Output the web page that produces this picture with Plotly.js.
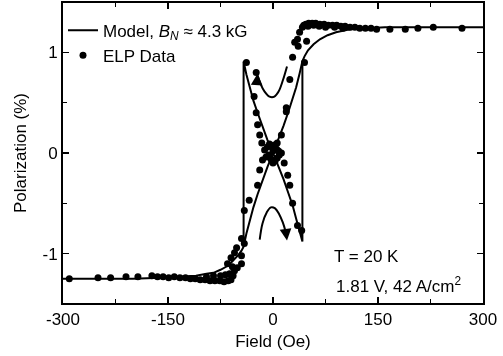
<!DOCTYPE html>
<html><head><meta charset="utf-8">
<script src="https://cdn.plot.ly/plotly-3.0.1.min.js"></script>
<style>html,body{margin:0;padding:0;background:#fff}#chart{width:503px;height:356px;filter:grayscale(1)}</style>
</head><body><div id="chart"></div>
<script>
// Model branch 1: lower-left curve, ascending diagonal, upper-right curve
const modelField1 = [-300,-250,-200,-160,-130,-110,-95,-85,-75,-67,-60,-54,-49,-45,-42,-38,-33,-28,-22,-15,-8,0,8,15,22,28,33,38,42,45,50,58,67,78,90,110,134,160,200,250,300];
const modelPol1   = [-1.25,-1.25,-1.25,-1.24,-1.23,-1.22,-1.20,-1.19,-1.16,-1.13,-1.09,-1.05,-1.01,-0.97,-0.93,-0.80,-0.66,-0.54,-0.41,-0.27,-0.14,0.0,0.14,0.27,0.41,0.53,0.65,0.79,0.91,0.96,1.02,1.08,1.13,1.17,1.20,1.23,1.24,1.25,1.25,1.25,1.25];
// Model branch 2: left jump, descending diagonal, right jump
const modelField2 = [-42,-42,-38,-33,-28,-22,-15,-8,0,8,15,22,28,33,38,42,42];
const modelPol2   = [-0.93,0.91,0.78,0.64,0.52,0.40,0.26,0.13,0.0,-0.13,-0.26,-0.40,-0.52,-0.65,-0.77,-0.88,0.91];
// Direction arcs
const arcUpField = [20,14,8,2,-5,-12,-18,-22];
const arcUpPol   = [0.86,0.72,0.61,0.56,0.56,0.61,0.69,0.77];
const arcDnField = [-19,-15,-9,-3,3,9,14,18];
const arcDnPol   = [-0.86,-0.70,-0.59,-0.54,-0.55,-0.61,-0.69,-0.78];
// ELP data
const dataField = [270,229,207,189,167,148,140,132,124,117,110,103,97,91,85,79,73,67,61,56,51,47,44,42,50,58,66,75,88,100,
  38,35,31,48,36,28,45,24,19,19,12,6,12,16,21,24,28,35,41,
  -38,-24,-27,-24,-22,-19,-16,-12,-15,-19,-22,-34,-41,-45,-52,-41,-60,-45,-55,-51,-45,-65,
  -8,-5,-2,2,5,8,-6,-3,0,3,6,9,0,-10,
  -291,-250,-232,-210,-193,-173,-165,-157,-149,-141,-133,-125,-118,-111,-104,-97,-90,-83,-76,-70,-64,-60,-57,-62,-68,-75,-85,-95,-55,-58];
const dataPol = [1.24,1.25,1.24,1.23,1.23,1.23,1.24,1.24,1.24,1.25,1.25,1.26,1.26,1.27,1.27,1.27,1.28,1.28,1.29,1.29,1.29,1.28,1.27,1.25,1.26,1.27,1.26,1.25,1.25,1.24,
  1.20,1.13,1.10,1.11,1.06,0.95,0.90,0.73,0.45,0.41,0.18,0.10,0.0,-0.10,-0.22,-0.32,-0.50,-0.72,-0.77,
  0.90,0.80,0.56,0.40,0.28,0.18,0.10,0.03,-0.07,-0.17,-0.32,-0.47,-0.57,-0.85,-0.94,-0.90,-1.04,-1.02,-0.99,-1.14,-1.10,-1.10,
  0.06,0.09,0.07,0.08,0.04,0.02,-0.02,-0.06,-0.10,-0.08,-0.05,-0.02,0.02,-0.04,
  -1.25,-1.24,-1.24,-1.23,-1.23,-1.22,-1.23,-1.23,-1.24,-1.23,-1.24,-1.24,-1.25,-1.25,-1.26,-1.26,-1.27,-1.27,-1.27,-1.28,-1.27,-1.26,-1.22,-1.20,-1.21,-1.22,-1.22,-1.23,-1.17,-1.13];
const xTicks = [-300,-150,0,150,300];
const xTickText = ['-300','-150','0','150','300'];
const yTicks = [-1,0,1];
const yTickText = ['-1','0','1'];

const lineStyle = {color:'#000', width:2};
const traces = [
  {x:modelField1, y:modelPol1, mode:'lines', line:lineStyle, name:'Model, <i>B</i><sub><i>N</i></sub> ≈ 4.3 kG', legendgroup:'a', showlegend:true},
  {x:modelField2, y:modelPol2, mode:'lines', line:lineStyle, showlegend:false},
  {x:arcUpField, y:arcUpPol, mode:'lines', line:{color:'#000', width:2, shape:'spline'}, showlegend:false},
  {x:arcDnField, y:arcDnPol, mode:'lines', line:{color:'#000', width:2, shape:'spline'}, showlegend:false},
  {x:dataField, y:dataPol, mode:'markers', marker:{color:'#000', size:7}, name:'ELP Data', legendgroup:'b'}
];
const fnt = {family:'Liberation Sans, Arial, sans-serif', size:17, color:'#000000'};
const layout = {
  width:503, height:356,
  margin:{l:63, r:20, t:3, b:53},
  paper_bgcolor:'#fff', plot_bgcolor:'#fff',
  font:fnt,
  showlegend:true,
  legend:{x:0.0, y:0.968, xanchor:'left', yanchor:'top', bgcolor:'rgba(0,0,0,0)', font:fnt, tracegroupgap:20, traceorder:'normal', itemwidth:30},
  xaxis:{range:[-300,300], tickvals:xTicks, ticktext:xTickText, ticks:'inside', ticklen:6, tickwidth:1.5, tickcolor:'#000',
    showline:true, linewidth:2, linecolor:'#000', mirror:'ticks', showgrid:false, zeroline:false,
    minor:{dtick:75, tick0:0, ticks:'inside', ticklen:4, tickwidth:1.5, tickcolor:'#000', showgrid:false},
    tickfont:fnt, title:{text:'Field (Oe)', font:fnt, standoff:7}},
  yaxis:{range:[-1.49,1.49], tickvals:yTicks, ticktext:yTickText, ticks:'inside', ticklen:6, tickwidth:1.5, tickcolor:'#000',
    showline:true, linewidth:2, linecolor:'#000', mirror:'ticks', showgrid:false, zeroline:false,
    minor:{dtick:0.5, tick0:0, ticks:'inside', ticklen:4, tickwidth:1.5, tickcolor:'#000', showgrid:false},
    tickfont:fnt, title:{text:'Polarization (%)', font:fnt, standoff:12}},
  annotations:[
    {x:-22, y:0.79, ax:-23, ay:0.70, xref:'x', yref:'y', axref:'x', ayref:'y', showarrow:true, arrowhead:2, arrowsize:1.3, arrowwidth:1.8, arrowcolor:'#000', text:''},
    {x:20, y:-0.87, ax:18, ay:-0.76, xref:'x', yref:'y', axref:'x', ayref:'y', showarrow:true, arrowhead:2, arrowsize:1.3, arrowwidth:1.8, arrowcolor:'#000', text:''},
    {x:0.64, y:0.155, xref:'paper', yref:'paper', xanchor:'left', yanchor:'middle', showarrow:false, text:'T = 20 K', font:fnt},
    {x:0.645, y:0.06, xref:'paper', yref:'paper', xanchor:'left', yanchor:'middle', showarrow:false, text:'1.81 V, 42 A/cm<sup>2</sup>', font:fnt}
  ]
};
Plotly.newPlot('chart', traces, layout, {staticPlot:true, displayModeBar:false});
</script></body></html>
